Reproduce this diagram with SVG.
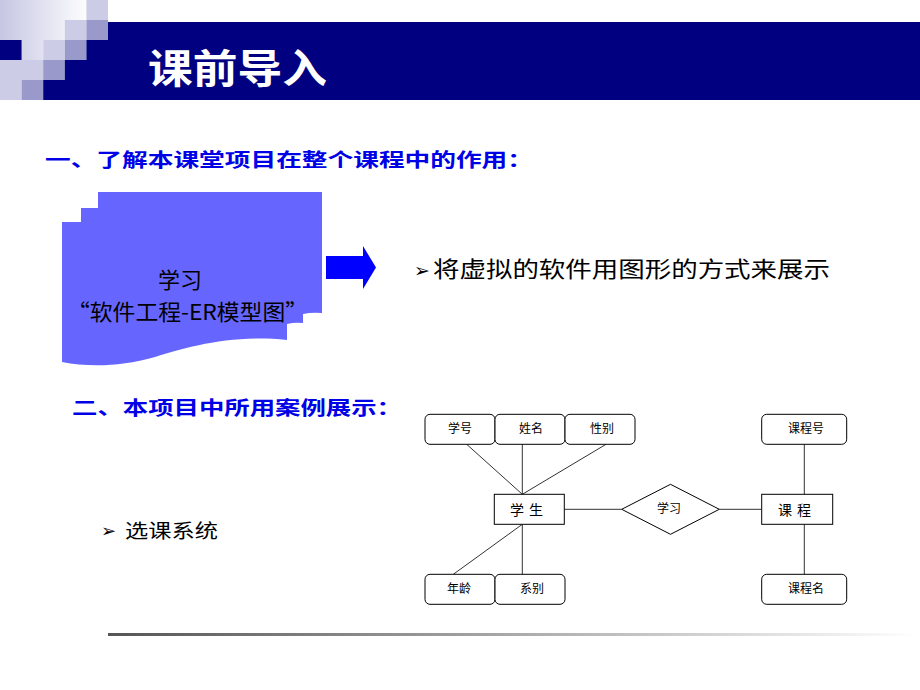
<svg xmlns="http://www.w3.org/2000/svg" width="920" height="690" viewBox="0 0 920 690">
<defs>
<linearGradient id="fade" gradientUnits="userSpaceOnUse" x1="0" y1="0" x2="90" y2="0">
<stop offset="0" stop-color="#C6C6E3"/>
<stop offset="1" stop-color="#FFFFFF"/>
</linearGradient>
<linearGradient id="rule" x1="0" y1="0" x2="1" y2="0">
<stop offset="0" stop-color="#555555"/>
<stop offset="1" stop-color="#FFFFFF"/>
</linearGradient>
<style>
.navy{fill:#000080}
.lt{fill:#CCCCE6}
.md{fill:#9999CC}
.cjk{font-family:"Noto Sans CJK SC","Liberation Sans",sans-serif}
.head{font-size:19px;font-weight:bold;fill:#0000E6}
.body{font-size:22px;fill:#000}
.bullet{font-family:"DejaVu Sans",sans-serif;fill:#000}
.attr rect{fill:#fff;stroke:#000;stroke-width:1}
.ent rect{fill:#fff;stroke:#000;stroke-width:1}
.er{font-size:12px;fill:#000;text-anchor:middle}
.ert{font-size:14px;fill:#000;text-anchor:middle;letter-spacing:5px}
#connectors line{stroke:#333;stroke-width:1}
</style>
</defs>
<rect width="920" height="690" fill="#fff"/>
<!-- top-left decoration -->
<g id="decor">
<rect x="0" y="0" width="86.4" height="20" fill="url(#fade)"/>
<rect x="0" y="20" width="64.8" height="20" fill="url(#fade)"/>
<rect x="21.6" y="40" width="21.6" height="20" fill="url(#fade)"/>
<rect class="lt" x="86.4" y="0" width="21.6" height="20"/>
<rect class="lt" x="64.8" y="20" width="21.6" height="20"/>
<rect class="lt" x="43.2" y="40" width="21.6" height="20"/>
<rect class="lt" x="0" y="60" width="43.2" height="20"/>
<rect class="lt" x="0" y="80" width="21.6" height="20"/>
<rect class="md" x="86.4" y="20" width="21.6" height="20"/>
<rect class="md" x="64.8" y="40" width="21.6" height="20"/>
<rect class="md" x="43.2" y="60" width="21.6" height="20"/>
<rect class="md" x="21.6" y="80" width="21.6" height="20"/>
<rect class="navy" x="0" y="40" width="21.6" height="20"/>
<polygon class="navy" points="108,22 920,22 920,100 43.2,100 43.2,80 64.8,80 64.8,60 86.4,60 86.4,40 108,40"/>
</g>
<g id="title">
<text x="148" y="83" class="cjk" font-size="40" font-weight="bold" fill="#fff" textLength="179" lengthAdjust="spacingAndGlyphs">课前导入</text>
</g>
<g id="heading1">
<text x="45" y="167" class="cjk head" textLength="488" lengthAdjust="spacingAndGlyphs">一、了解本课堂项目在整个课程中的作用：</text>
</g>
<g id="doc">
<path d="M98,192 L322,192 L322,313 Q312,312 303,314 L303,323 Q295,322 287,324 L287,340 C230,334 185,348 155,357 C120,367 88,367 62,362 L62,222 L81,222 L81,208 L98,208 Z" fill="#6666FF"/>
<text x="180" y="288" class="cjk body" text-anchor="middle">学习</text>
<text x="67" y="320" class="cjk body" textLength="241" lengthAdjust="spacingAndGlyphs">“软件工程-ER模型图”</text>
</g>
<g id="arrow">
<polygon points="326,256 363,256 363,246 376,267.5 363,289 363,279 326,279" fill="#0000FF"/>
</g>
<g id="point1">
<text x="414" y="277" class="bullet" font-size="19">➢</text>
<text x="433" y="277" class="cjk body" textLength="397" lengthAdjust="spacingAndGlyphs">将虚拟的软件用图形的方式来展示</text>
</g>
<g id="heading2">
<text x="72" y="415" class="cjk head" textLength="330" lengthAdjust="spacingAndGlyphs">二、本项目中所用案例展示：</text>
</g>
<g id="point2">
<text x="101" y="537" class="bullet" font-size="18">➢</text>
<text x="125" y="538" class="cjk" font-size="19" fill="#000" textLength="93" lengthAdjust="spacingAndGlyphs">选课系统</text>
</g>
<!-- ER diagram -->
<g id="connectors">
<line x1="466.7" y1="444.3" x2="522.3" y2="494.3"/>
<line x1="522.3" y1="444.3" x2="522.3" y2="494.3"/>
<line x1="606" y1="444.3" x2="522.3" y2="494.3"/>
<line x1="564.3" y1="509.3" x2="621.7" y2="509.3"/>
<line x1="719.3" y1="509.3" x2="761.7" y2="509.3"/>
<line x1="804.3" y1="444.3" x2="804.3" y2="494.3"/>
<line x1="804.3" y1="524.3" x2="804.3" y2="574.3"/>
<line x1="522.3" y1="524.3" x2="453.3" y2="574.3"/>
<line x1="522.3" y1="524.3" x2="522.3" y2="574.3"/>
</g>
<g id="attr-xuehao" class="attr"><rect x="425" y="414.3" width="70" height="30" rx="5"/><text x="460" y="433" class="cjk er">学号</text></g>
<g id="attr-xingming" class="attr"><rect x="495" y="414.3" width="70" height="30" rx="5"/><text x="531" y="433" class="cjk er">姓名</text></g>
<g id="attr-xingbie" class="attr"><rect x="565" y="414.3" width="70" height="30" rx="5"/><text x="602" y="433" class="cjk er">性别</text></g>
<g id="attr-kechenghao" class="attr"><rect x="761.7" y="414.3" width="85" height="30" rx="5"/><text x="806" y="433" class="cjk er">课程号</text></g>
<g id="ent-xuesheng" class="ent"><rect x="494.3" y="494.3" width="70" height="30"/><text x="529" y="515" class="cjk ert">学生</text></g>
<g id="rel-xuexi"><polygon points="621.7,509.3 670.5,484.3 719.3,509.3 670.5,534.3" fill="#fff" stroke="#000" stroke-width="1"/><text x="669" y="513" class="cjk er">学习</text></g>
<g id="ent-kecheng" class="ent"><rect x="761.7" y="494.3" width="71" height="30"/><text x="797" y="515" class="cjk ert">课程</text></g>
<g id="attr-nianling" class="attr"><rect x="425" y="574.3" width="70" height="30" rx="5"/><text x="459" y="593" class="cjk er">年龄</text></g>
<g id="attr-xibie" class="attr"><rect x="495" y="574.3" width="70" height="30" rx="5"/><text x="532" y="593" class="cjk er">系别</text></g>
<g id="attr-kechengming" class="attr"><rect x="761.7" y="574.3" width="85" height="30" rx="5"/><text x="806" y="593" class="cjk er">课程名</text></g>
<g id="footer-rule">
<rect x="108" y="633" width="812" height="3" fill="url(#rule)"/>
</g>
</svg>
